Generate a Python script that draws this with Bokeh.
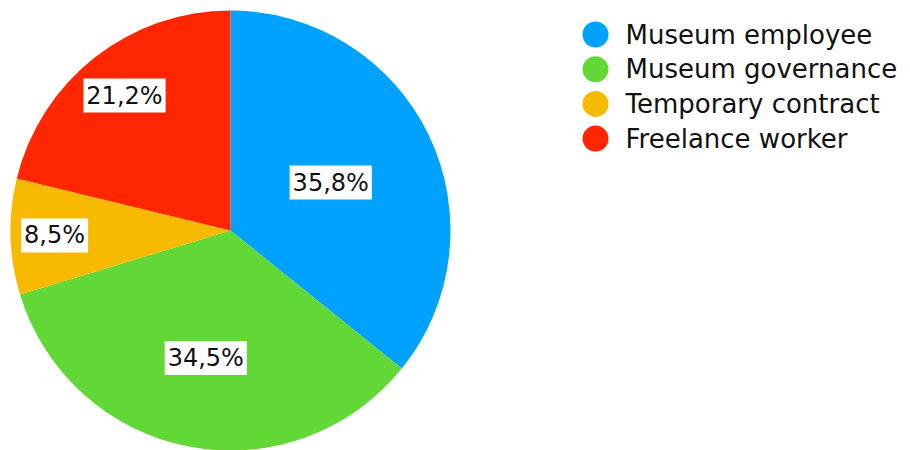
import math
from bokeh.plotting import figure
from bokeh.models import ColumnDataSource, Range1d
from bokeh.core.properties import value
from bokeh.embed import file_html
from bokeh.resources import INLINE

categories = ["Museum employee", "Museum governance", "Temporary contract", "Freelance worker"]
shares = [35.8, 34.5, 8.5, 21.2]
label_texts = ["35,8%", "34,5%", "8,5%", "21,2%"]
colors = ["#00A2FF", "#61D836", "#F8BA00", "#FF2600"]

# styling / layout
W, H = 900, 450
CX, CY, R = 230, H - 230, 220
label_dist = [0.505, 0.59, 0.80, 0.78]
FONT = "DejaVu Sans"

total = sum(shares)
starts, ends, lx, ly = [], [], [], []
cum = 0.0
for i, s in enumerate(shares):
    a0 = math.pi / 2 - 2 * math.pi * cum / total
    cum += s
    a1 = math.pi / 2 - 2 * math.pi * cum / total
    starts.append(a0)
    ends.append(a1)
    mid = (a0 + a1) / 2
    lx.append(CX + label_dist[i] * R * math.cos(mid))
    ly.append(CY + label_dist[i] * R * math.sin(mid))

src = ColumnDataSource(dict(cat=categories, share=shares, start=starts, end=ends,
                            color=colors, lx=lx, ly=ly, txt=label_texts,
                            cx=[CX] * 4, cy=[CY] * 4))

p = figure(width=W, height=H, x_range=Range1d(0, W), y_range=Range1d(0, H),
           output_backend="svg", toolbar_location=None, min_border=0)
p.axis.visible = False
p.grid.visible = False
p.outline_line_color = None
p.background_fill_color = "white"
p.border_fill_color = "white"

p.wedge(x="cx", y="cy", radius=R, radius_units="screen", start_angle="start",
        end_angle="end", direction="clock", fill_color="color", line_color=None,
        source=src)

p.text(x="lx", y="ly", text="txt", source=src, text_align="center",
       text_baseline="middle", text_font=value(FONT), text_font_size="24px",
       text_color="#111111", background_fill_color="white", padding=3)

# legend
LEG_X, LEG_TOP, LEG_STEP, TXT_X = 595, H - 34, 34.7, 625
leg_y = [LEG_TOP - i * LEG_STEP for i in range(len(categories))]
leg_src = ColumnDataSource(dict(x=[LEG_X] * 4, tx=[TXT_X] * 4, y=leg_y,
                                color=colors, cat=categories))
p.scatter(x="x", y="y", size=26, fill_color="color", line_color=None, source=leg_src)
p.text(x="tx", y="y", text="cat", text_font=value(FONT), text_font_size="26px",
       text_baseline="middle", text_align="left", text_color="#111111", source=leg_src)

open("out.html", "w").write(file_html(p, INLINE))
